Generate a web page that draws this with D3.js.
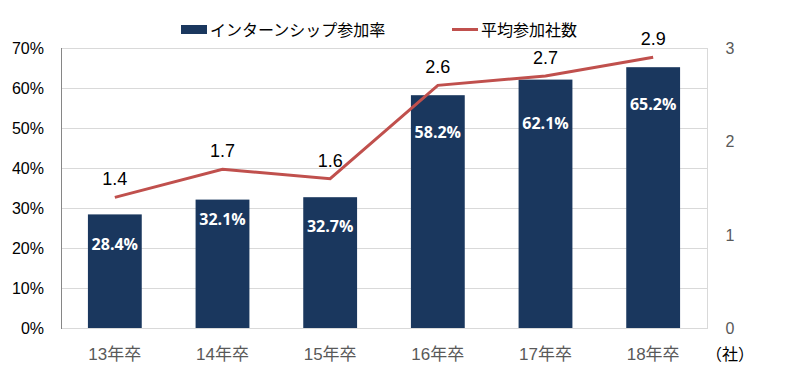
<!DOCTYPE html>
<html>
<head>
<meta charset="utf-8">
<script src="https://cdn.jsdelivr.net/npm/d3@7"></script>
<style>
  body { margin: 0; background: #fff; }
  svg { display: block; font-family: "Liberation Sans", "Noto Sans CJK JP", sans-serif; }
</style>
</head>
<body>
<svg id="chart" width="800" height="376"></svg>
<script>
var categories = ['13年卒', '14年卒', '15年卒', '16年卒', '17年卒', '18年卒']
var internRate = [28.4, 32.1, 32.7, 58.2, 62.1, 65.2]
var avgCompanies = [1.4, 1.7, 1.6, 2.6, 2.7, 2.9]
var leftTicks = [0, 10, 20, 30, 40, 50, 60, 70]
var rightTicks = [0, 1, 2, 3]
var legendNames = ['インターンシップ参加率', '平均参加社数']

var barColor = '#1a375e'
  , lineColor = '#c0504d'

var svg = d3.select('#chart')
  , plot = { left: 61, right: 707, top: 48, bottom: 328 }

var xc = d3.scaleBand().domain(categories).range([plot.left, plot.right])
var yL = d3.scaleLinear().domain([0, 70]).range([plot.bottom, plot.top])
var yR = d3.scaleLinear().domain([0, 3]).range([plot.bottom, plot.top])
var cx = function(i) { return xc(categories[i]) + xc.bandwidth() / 2 }

// gridlines
svg.append('g').selectAll('line').data(leftTicks.slice(1)).join('line')
  .attr('x1', plot.left).attr('x2', plot.right)
  .attr('y1', function(d) { return yL(d) + 0.5 }).attr('y2', function(d) { return yL(d) + 0.5 })
  .attr('stroke', '#d9d9d9').attr('stroke-width', 1)

// plot border
svg.append('line').attr('x1', plot.right + 0.5).attr('x2', plot.right + 0.5)
  .attr('y1', plot.top).attr('y2', plot.bottom).attr('stroke', '#d9d9d9')
svg.append('line').attr('x1', plot.left).attr('x2', plot.right + 1)
  .attr('y1', plot.bottom + 0.5).attr('y2', plot.bottom + 0.5).attr('stroke', '#d9d9d9')
svg.append('line').attr('x1', plot.left + 0.5).attr('x2', plot.left + 0.5)
  .attr('y1', plot.top).attr('y2', plot.bottom + 1).attr('stroke', '#868686')

// bars
svg.append('g').selectAll('rect').data(internRate).join('rect')
  .attr('x', function(d, i) { return xc(categories[i]) + xc.bandwidth() / 4 })
  .attr('width', xc.bandwidth() / 2)
  .attr('y', function(d) { return yL(d) })
  .attr('height', function(d) { return plot.bottom - yL(d) })
  .attr('fill', barColor)

// bar labels sit under the line where the two get close
svg.append('g').selectAll('text').data(internRate).join('text')
  .attr('x', function(d, i) { return cx(i) })
  .attr('y', function(d, i) { return Math.max(yL(d) + 25, yR(avgCompanies[i]) + 53) })
  .attr('text-anchor', 'middle')
  .attr('fill', '#fff').attr('font-weight', 'bold').attr('font-size', 16)
  .attr('font-family', '"Open Sans", sans-serif')
  .text(function(d) { return d.toFixed(1) + '%' })

// line
var line = d3.line()
  .x(function(d, i) { return cx(i) })
  .y(function(d) { return yR(d) })
svg.append('path').datum(avgCompanies)
  .attr('d', line).attr('fill', 'none')
  .attr('stroke', lineColor).attr('stroke-width', 3)

svg.append('g').selectAll('text').data(avgCompanies).join('text')
  .attr('x', function(d, i) { return cx(i) })
  .attr('y', function(d) { return yR(d) - 12 })
  .attr('text-anchor', 'middle')
  .attr('fill', '#000').attr('font-size', 18)
  .text(function(d) { return d.toFixed(1) })

// left axis
svg.append('g').selectAll('text').data(leftTicks).join('text')
  .attr('x', 44).attr('y', function(d) { return yL(d) + 6 })
  .attr('text-anchor', 'end').attr('font-size', 16).attr('fill', '#000')
  .text(function(d) { return d + '%' })

// right axis
svg.append('g').selectAll('text').data(rightTicks).join('text')
  .attr('x', 730).attr('y', function(d) { return yR(d) + 6 })
  .attr('text-anchor', 'middle').attr('font-size', 16).attr('fill', '#595959')
  .text(function(d) { return d })

svg.append('text').attr('x', 730).attr('y', 360)
  .attr('text-anchor', 'middle').attr('font-size', 16).attr('fill', '#000')
  .text('（社）')

// x axis labels
svg.append('g').selectAll('text').data(categories).join('text')
  .attr('x', function(d) { return xc(d) + xc.bandwidth() / 2 })
  .attr('y', 360)
  .attr('text-anchor', 'middle').attr('font-size', 17).attr('fill', '#595959')
  .text(function(d) { return d })

// legend
var lg = svg.append('g')
lg.append('rect').attr('x', 181).attr('y', 25).attr('width', 26).attr('height', 9).attr('fill', barColor)
lg.append('text').attr('x', 210).attr('y', 36).attr('font-size', 16).attr('fill', '#000').text(legendNames[0])
lg.append('line').attr('x1', 452).attr('x2', 478).attr('y1', 29.5).attr('y2', 29.5)
  .attr('stroke', lineColor).attr('stroke-width', 3)
lg.append('text').attr('x', 481).attr('y', 36).attr('font-size', 16).attr('fill', '#000').text(legendNames[1])
</script>
</body>
</html>
